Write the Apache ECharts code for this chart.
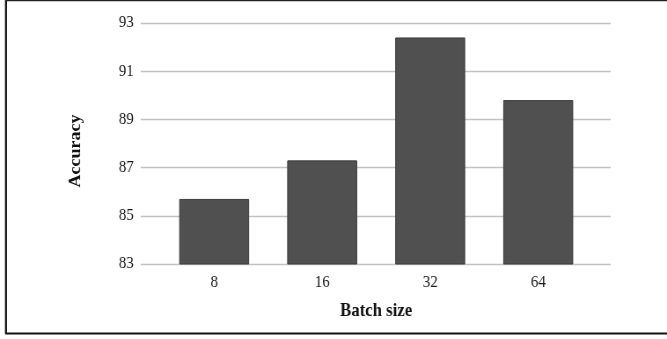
<!DOCTYPE html>
<html>
<head>
<meta charset="utf-8">
<script src="https://cdn.jsdelivr.net/npm/echarts@6/dist/echarts.min.js"></script>
<style>
html,body{margin:0;padding:0;background:#fff;overflow:hidden;width:667px;height:339px;}
#wrap{width:667px;height:339px;overflow:hidden;position:relative;}
#chart{width:758px;height:339px;transform:scaleX(0.87995);transform-origin:0 0;position:absolute;left:0;top:0;}
</style>
</head>
<body>
<div id="wrap"><div id="chart"></div></div>
<script>
var categories = ['8', '16', '32', '64'];
var accuracy = [85.7, 87.3, 92.4, 89.8];
var yTicks = [83, 85, 87, 89, 91, 93];

var font = '"Liberation Serif", "Times New Roman", serif';
var chart = echarts.init(document.getElementById('chart'), null, {renderer: 'canvas'});
chart.setOption({
  animation: false,
  backgroundColor: '#ffffff',
  grid: [
    {left: 160, right: 64, top: 23, bottom: 75},
    {left: 182, right: 85, top: 23, bottom: 75}
  ],
  xAxis: [
    {gridIndex: 0, type: 'value', min: 0, max: 1, show: false},
    {
      gridIndex: 1, type: 'category', data: categories,
      axisLine: {show: false}, axisTick: {show: false},
      axisLabel: {fontFamily: font, fontSize: 17, color: '#1a1a1a', margin: 10},
      name: 'Batch size', nameLocation: 'middle', nameGap: 38,
      nameTextStyle: {fontFamily: font, fontSize: 19, fontWeight: 'bold', color: '#111'}
    }
  ],
  yAxis: [
    {
      gridIndex: 0, type: 'value', min: yTicks[0], max: yTicks[yTicks.length - 1], interval: yTicks[1] - yTicks[0],
      axisLine: {show: false}, axisTick: {show: false},
      axisLabel: {fontFamily: font, fontSize: 17, color: '#1a1a1a', margin: 8},
      splitLine: {lineStyle: {color: '#c2c2c2', width: 1.4}},
      name: 'Accuracy', nameLocation: 'middle', nameGap: 65, nameRotate: 90,
      nameTextStyle: {fontFamily: font, fontSize: 18, fontWeight: 'bold', color: '#111', padding: [0, 15, 0, 0]}
    },
    {gridIndex: 1, type: 'value', min: yTicks[0], max: yTicks[yTicks.length - 1], show: false}
  ],
  series: [{
    type: 'bar', xAxisIndex: 1, yAxisIndex: 1,
    data: accuracy, barWidth: 79.5,
    itemStyle: {color: '#505050', borderColor: '#3c3c3c', borderWidth: 1}
  }],
  graphic: [
    {type: 'line', shape: {x1: 6.8, y1: 0, x2: 6.8, y2: 334}, style: {stroke: '#111', lineWidth: 2.3}},
    {type: 'line', shape: {x1: 6, y1: 0.5, x2: 758, y2: 0.5}, style: {stroke: '#222', lineWidth: 1.5}},
    {type: 'line', shape: {x1: 6, y1: 333.5, x2: 758, y2: 333.5}, style: {stroke: '#111', lineWidth: 2}}
  ]
});
</script>
</body>
</html>
